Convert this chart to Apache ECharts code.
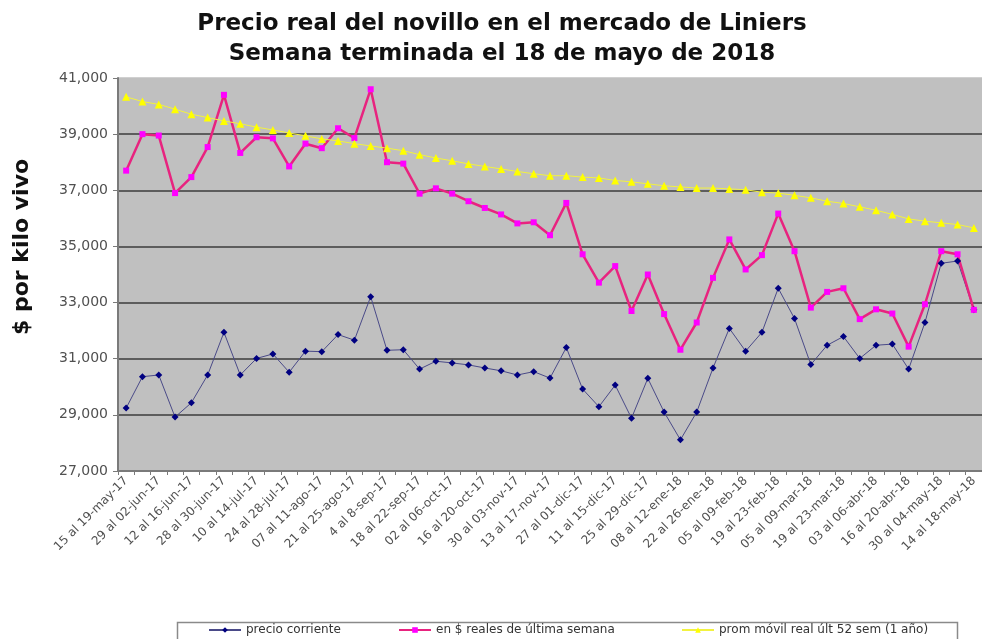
<!DOCTYPE html>
<html>
<head>
<meta charset="utf-8">
<script src="https://cdn.jsdelivr.net/npm/echarts@6/dist/echarts.min.js"></script>
<style>
  html, body { margin: 0; padding: 0; background: #fff; }
  #chart { width: 982px; height: 639px; }
</style>
</head>
<body>
<div id="chart"></div>
<script>
// semanas (viernes de cierre)
var weeks = [
  '15 al 19-may-17', '22 al 26-may-17', '29 al 02-jun-17', '05 al 09-jun-17', '12 al 16-jun-17',
  '19 al 23-jun-17', '28 al 30-jun-17', '03 al 07-jul-17', '10 al 14-jul-17', '17 al 21-jul-17',
  '24 al 28-jul-17', '31 al 04-ago-17', '07 al 11-ago-17', '14 al 18-ago-17', '21 al 25-ago-17',
  '28 al 01-sep-17', '4 al 8-sep-17', '11 al 15-sep-17', '18 al 22-sep-17', '25 al 29-sep-17',
  '02 al 06-oct-17', '09 al 13-oct-17', '16 al 20-oct-17', '23 al 27-oct-17', '30 al 03-nov-17',
  '06 al 10-nov-17', '13 al 17-nov-17', '20 al 24-nov-17', '27 al 01-dic-17', '04 al 08-dic-17',
  '11 al 15-dic-17', '18 al 22-dic-17', '25 al 29-dic-17', '01 al 05-ene-18', '08 al 12-ene-18',
  '15 al 19-ene-18', '22 al 26-ene-18', '29 al 02-feb-18', '05 al 09-feb-18', '12 al 16-feb-18',
  '19 al 23-feb-18', '26 al 02-mar-18', '05 al 09-mar-18', '12 al 16-mar-18', '19 al 23-mar-18',
  '26 al 30-mar-18', '03 al 06-abr-18', '09 al 13-abr-18', '16 al 20-abr-18', '23 al 27-abr-18',
  '30 al 04-may-18', '07 al 11-may-18', '14 al 18-may-18'
];

// precio corriente
var corriente = [
  29240, 30360, 30420, 28920, 29430, 30420, 31940, 30420, 31010, 31170,
  30520, 31270, 31250, 31860, 31660, 33210, 31300, 31320, 30630, 30910,
  30850, 30780, 30670, 30570, 30420, 30540, 30310, 31400, 29920, 29290,
  30060, 28880, 30300, 29100, 28110, 29100, 30670, 32080, 31270, 31940,
  33510, 32430, 30790, 31480, 31790, 31010, 31480, 31520, 30630, 32290,
  34400, 34480, 32740
];

// en $ reales de ultima semana
var reales = [
  37700, 39000, 38950, 36900, 37470, 38540, 40400, 38330, 38890, 38850,
  37850, 38660, 38500, 39210, 38860, 40600, 38000, 37950, 36880, 37070,
  36880, 36610, 36370, 36140, 35820, 35860, 35400, 36550, 34720, 33710,
  34300, 32700, 34000, 32590, 31320, 32290, 33880, 35250, 34180, 34690,
  36170, 34830, 32820, 33380, 33510, 32410, 32760, 32610, 31430, 32940,
  34830, 34720, 32740
];

// promedio movil real ult 52 semanas
var promMovil = [
  40330, 40160, 40060, 39890, 39710, 39590, 39470, 39370, 39250, 39150,
  39040, 38940, 38830, 38760, 38660, 38580, 38500, 38410, 38270, 38150,
  38050, 37940, 37850, 37760, 37670, 37590, 37520, 37520, 37470, 37440,
  37350, 37300, 37230, 37160, 37120, 37080, 37080, 37050, 37020, 36930,
  36900, 36820, 36730, 36610, 36530, 36410, 36290, 36140, 35980, 35900,
  35840, 35780, 35660
];

var names = ['precio corriente', 'en $ reales de última semana', 'prom móvil real últ 52 sem (1 año)'];

var FONT = 'DejaVu Sans';
var chart = echarts.init(document.getElementById('chart'));

function legendAt (name, left) {
  return {
    data: [name],
    left: left,
    top: 624,
    padding: 0,
    itemWidth: 32,
    itemHeight: 7,
    itemGap: 2,
    textStyle: { fontFamily: FONT, fontSize: 12, color: '#333' }
  };
}

chart.setOption({
  animation: false,
  backgroundColor: '#fff',
  title: {
    text: 'Precio real del novillo en el mercado de Liniers\nSemana terminada el 18 de mayo de 2018',
    left: 497,
    top: 4,
    textAlign: 'center',
    textStyle: {
      fontFamily: FONT,
      fontWeight: 'bold',
      fontSize: 23,
      lineHeight: 30,
      color: '#111'
    }
  },
  legend: [
    legendAt(names[0], 208),
    legendAt(names[1], 398),
    legendAt(names[2], 681)
  ],
  graphic: [
    {
      type: 'rect',
      left: 175,
      top: 620,
      shape: { width: 780, height: 40 },
      style: { fill: 'none', stroke: '#8a8a8a', lineWidth: 1.5 }
    },
    {
      // titulo del eje Y
      type: 'text',
      x: 22,
      y: 247,
      rotation: Math.PI / 2,
      style: {
        text: '$ por kilo vivo',
        fontFamily: FONT,
        fontWeight: 'bold',
        fontSize: 22,
        fill: '#111',
        align: 'center',
        verticalAlign: 'middle'
      }
    }
  ],
  grid: {
    left: 118,
    top: 78,
    right: -7,
    bottom: 168,
    show: true,
    backgroundColor: '#c0c0c0',
    borderWidth: 0
  },
  xAxis: {
    type: 'category',
    data: weeks,
    boundaryGap: true,
    axisLine: { lineStyle: { color: '#7a7a7a', width: 2 } },
    axisTick: { show: true, interval: 0, length: 4, lineStyle: { color: '#7a7a7a' } },
    axisLabel: {
      interval: 1,
      rotate: 45,
      margin: 8,
      fontFamily: FONT,
      fontSize: 12,
      color: '#505050'
    },
    splitLine: { show: false }
  },
  yAxis: {
    type: 'value',
    min: 27000,
    max: 41000,
    interval: 2000,
    axisLine: { show: true, lineStyle: { color: '#7a7a7a', width: 2 } },
    axisTick: { show: true, length: 5, lineStyle: { color: '#7a7a7a' } },
    axisLabel: {
      fontFamily: FONT,
      fontSize: 14,
      color: '#505050',
      margin: 10,
      formatter: function (v) { return v.toLocaleString('en-US'); }
    },
    splitLine: {
      show: true,
      lineStyle: {
        color: ['#7a7a7a', '#3c3c3c', '#3c3c3c', '#3c3c3c', '#3c3c3c', '#3c3c3c', '#3c3c3c', '#c0c0c0'],
        width: 1.5
      }
    }
  },
  series: [
    {
      name: names[0],
      type: 'line',
      data: corriente,
      symbol: 'diamond',
      symbolSize: 7,
      itemStyle: { color: '#000080' },
      lineStyle: { color: '#4a4a88', width: 1 }
    },
    {
      name: names[1],
      type: 'line',
      data: reales,
      symbol: 'rect',
      symbolSize: 6,
      itemStyle: { color: '#ff00ff' },
      lineStyle: { color: '#e8237f', width: 2.5 }
    },
    {
      name: names[2],
      type: 'line',
      data: promMovil,
      symbol: 'triangle',
      symbolSize: 8,
      itemStyle: { color: '#ffff00' },
      lineStyle: { color: '#f2f240', width: 1 }
    }
  ]
});
</script>
</body>
</html>
